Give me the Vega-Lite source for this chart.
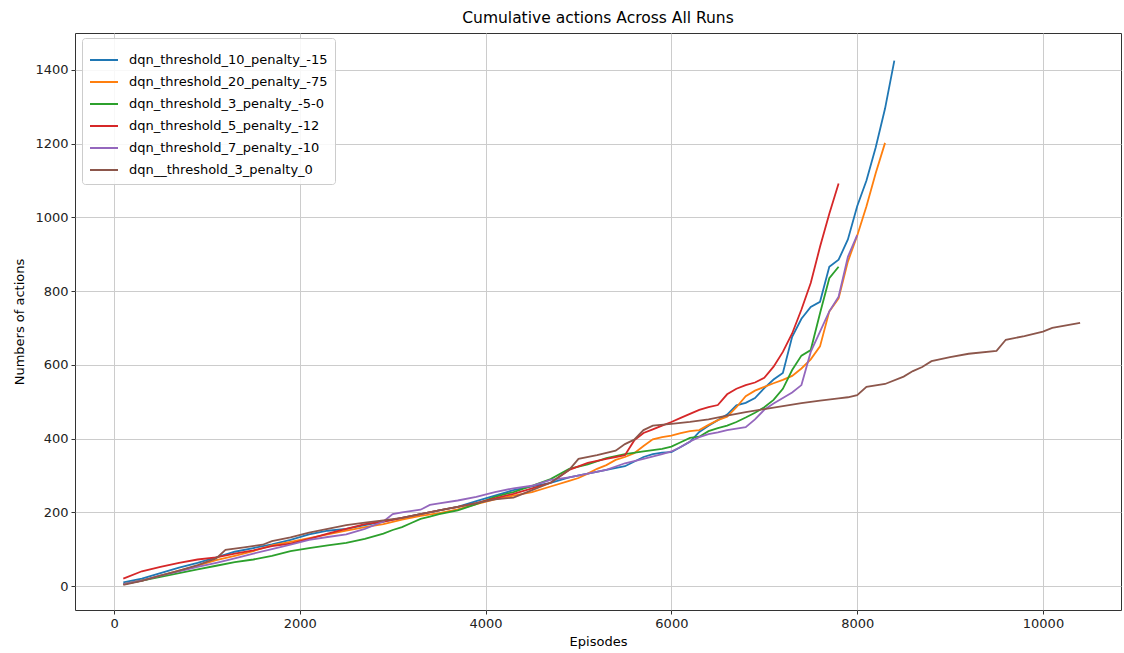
{
"$schema": "https://vega.github.io/schema/vega-lite/v6.json",
"width": 1046, "height": 577,
"autosize": {"type": "none"},
"padding": {"left": 75, "top": 33, "right": 3, "bottom": 43},
"title": {"text": "Cumulative actions Across All Runs", "fontSize": 15.5, "fontWeight": "normal", "font": "DejaVu Sans", "color": "#000", "offset": 7},
"data": {"values": [
{"run":"dqn_threshold_10_penalty_-15","episode":100,"actions":10},
{"run":"dqn_threshold_10_penalty_-15","episode":300,"actions":20},
{"run":"dqn_threshold_10_penalty_-15","episode":500,"actions":35},
{"run":"dqn_threshold_10_penalty_-15","episode":700,"actions":50},
{"run":"dqn_threshold_10_penalty_-15","episode":900,"actions":63},
{"run":"dqn_threshold_10_penalty_-15","episode":1100,"actions":78},
{"run":"dqn_threshold_10_penalty_-15","episode":1300,"actions":93},
{"run":"dqn_threshold_10_penalty_-15","episode":1500,"actions":103},
{"run":"dqn_threshold_10_penalty_-15","episode":1700,"actions":113},
{"run":"dqn_threshold_10_penalty_-15","episode":1900,"actions":125},
{"run":"dqn_threshold_10_penalty_-15","episode":2100,"actions":140},
{"run":"dqn_threshold_10_penalty_-15","episode":2300,"actions":150},
{"run":"dqn_threshold_10_penalty_-15","episode":2500,"actions":155},
{"run":"dqn_threshold_10_penalty_-15","episode":2700,"actions":165},
{"run":"dqn_threshold_10_penalty_-15","episode":2900,"actions":175},
{"run":"dqn_threshold_10_penalty_-15","episode":3100,"actions":185},
{"run":"dqn_threshold_10_penalty_-15","episode":3300,"actions":195},
{"run":"dqn_threshold_10_penalty_-15","episode":3500,"actions":205},
{"run":"dqn_threshold_10_penalty_-15","episode":3700,"actions":215},
{"run":"dqn_threshold_10_penalty_-15","episode":3900,"actions":230},
{"run":"dqn_threshold_10_penalty_-15","episode":4100,"actions":245},
{"run":"dqn_threshold_10_penalty_-15","episode":4300,"actions":260},
{"run":"dqn_threshold_10_penalty_-15","episode":4500,"actions":270},
{"run":"dqn_threshold_10_penalty_-15","episode":4700,"actions":280},
{"run":"dqn_threshold_10_penalty_-15","episode":4900,"actions":295},
{"run":"dqn_threshold_10_penalty_-15","episode":5100,"actions":305},
{"run":"dqn_threshold_10_penalty_-15","episode":5300,"actions":315},
{"run":"dqn_threshold_10_penalty_-15","episode":5500,"actions":325},
{"run":"dqn_threshold_10_penalty_-15","episode":5700,"actions":350},
{"run":"dqn_threshold_10_penalty_-15","episode":5800,"actions":358},
{"run":"dqn_threshold_10_penalty_-15","episode":5900,"actions":362},
{"run":"dqn_threshold_10_penalty_-15","episode":6000,"actions":363},
{"run":"dqn_threshold_10_penalty_-15","episode":6100,"actions":377},
{"run":"dqn_threshold_10_penalty_-15","episode":6200,"actions":391},
{"run":"dqn_threshold_10_penalty_-15","episode":6300,"actions":418},
{"run":"dqn_threshold_10_penalty_-15","episode":6400,"actions":435},
{"run":"dqn_threshold_10_penalty_-15","episode":6500,"actions":450},
{"run":"dqn_threshold_10_penalty_-15","episode":6600,"actions":465},
{"run":"dqn_threshold_10_penalty_-15","episode":6700,"actions":490},
{"run":"dqn_threshold_10_penalty_-15","episode":6800,"actions":497},
{"run":"dqn_threshold_10_penalty_-15","episode":6900,"actions":510},
{"run":"dqn_threshold_10_penalty_-15","episode":7000,"actions":537},
{"run":"dqn_threshold_10_penalty_-15","episode":7100,"actions":560},
{"run":"dqn_threshold_10_penalty_-15","episode":7200,"actions":578},
{"run":"dqn_threshold_10_penalty_-15","episode":7300,"actions":676},
{"run":"dqn_threshold_10_penalty_-15","episode":7400,"actions":725},
{"run":"dqn_threshold_10_penalty_-15","episode":7500,"actions":757},
{"run":"dqn_threshold_10_penalty_-15","episode":7600,"actions":771},
{"run":"dqn_threshold_10_penalty_-15","episode":7700,"actions":866},
{"run":"dqn_threshold_10_penalty_-15","episode":7800,"actions":885},
{"run":"dqn_threshold_10_penalty_-15","episode":7900,"actions":940},
{"run":"dqn_threshold_10_penalty_-15","episode":8000,"actions":1030},
{"run":"dqn_threshold_10_penalty_-15","episode":8100,"actions":1100},
{"run":"dqn_threshold_10_penalty_-15","episode":8200,"actions":1190},
{"run":"dqn_threshold_10_penalty_-15","episode":8300,"actions":1295},
{"run":"dqn_threshold_10_penalty_-15","episode":8400,"actions":1425},
{"run":"dqn_threshold_20_penalty_-75","episode":100,"actions":5},
{"run":"dqn_threshold_20_penalty_-75","episode":300,"actions":15},
{"run":"dqn_threshold_20_penalty_-75","episode":500,"actions":28},
{"run":"dqn_threshold_20_penalty_-75","episode":700,"actions":42},
{"run":"dqn_threshold_20_penalty_-75","episode":900,"actions":55},
{"run":"dqn_threshold_20_penalty_-75","episode":1100,"actions":70},
{"run":"dqn_threshold_20_penalty_-75","episode":1300,"actions":82},
{"run":"dqn_threshold_20_penalty_-75","episode":1500,"actions":95},
{"run":"dqn_threshold_20_penalty_-75","episode":1700,"actions":110},
{"run":"dqn_threshold_20_penalty_-75","episode":1900,"actions":120},
{"run":"dqn_threshold_20_penalty_-75","episode":2100,"actions":130},
{"run":"dqn_threshold_20_penalty_-75","episode":2300,"actions":140},
{"run":"dqn_threshold_20_penalty_-75","episode":2500,"actions":150},
{"run":"dqn_threshold_20_penalty_-75","episode":2700,"actions":160},
{"run":"dqn_threshold_20_penalty_-75","episode":2900,"actions":168},
{"run":"dqn_threshold_20_penalty_-75","episode":3100,"actions":180},
{"run":"dqn_threshold_20_penalty_-75","episode":3300,"actions":190},
{"run":"dqn_threshold_20_penalty_-75","episode":3500,"actions":198},
{"run":"dqn_threshold_20_penalty_-75","episode":3700,"actions":208},
{"run":"dqn_threshold_20_penalty_-75","episode":3900,"actions":222},
{"run":"dqn_threshold_20_penalty_-75","episode":4100,"actions":235},
{"run":"dqn_threshold_20_penalty_-75","episode":4300,"actions":245},
{"run":"dqn_threshold_20_penalty_-75","episode":4500,"actions":255},
{"run":"dqn_threshold_20_penalty_-75","episode":4700,"actions":270},
{"run":"dqn_threshold_20_penalty_-75","episode":4900,"actions":285},
{"run":"dqn_threshold_20_penalty_-75","episode":5000,"actions":293},
{"run":"dqn_threshold_20_penalty_-75","episode":5100,"actions":305},
{"run":"dqn_threshold_20_penalty_-75","episode":5200,"actions":318},
{"run":"dqn_threshold_20_penalty_-75","episode":5300,"actions":328},
{"run":"dqn_threshold_20_penalty_-75","episode":5400,"actions":342},
{"run":"dqn_threshold_20_penalty_-75","episode":5500,"actions":350},
{"run":"dqn_threshold_20_penalty_-75","episode":5600,"actions":360},
{"run":"dqn_threshold_20_penalty_-75","episode":5700,"actions":380},
{"run":"dqn_threshold_20_penalty_-75","episode":5800,"actions":398},
{"run":"dqn_threshold_20_penalty_-75","episode":5900,"actions":404},
{"run":"dqn_threshold_20_penalty_-75","episode":6000,"actions":408},
{"run":"dqn_threshold_20_penalty_-75","episode":6100,"actions":415},
{"run":"dqn_threshold_20_penalty_-75","episode":6200,"actions":420},
{"run":"dqn_threshold_20_penalty_-75","episode":6300,"actions":423},
{"run":"dqn_threshold_20_penalty_-75","episode":6400,"actions":437},
{"run":"dqn_threshold_20_penalty_-75","episode":6500,"actions":450},
{"run":"dqn_threshold_20_penalty_-75","episode":6600,"actions":459},
{"run":"dqn_threshold_20_penalty_-75","episode":6700,"actions":485},
{"run":"dqn_threshold_20_penalty_-75","episode":6800,"actions":515},
{"run":"dqn_threshold_20_penalty_-75","episode":6900,"actions":530},
{"run":"dqn_threshold_20_penalty_-75","episode":7000,"actions":540},
{"run":"dqn_threshold_20_penalty_-75","episode":7100,"actions":550},
{"run":"dqn_threshold_20_penalty_-75","episode":7200,"actions":559},
{"run":"dqn_threshold_20_penalty_-75","episode":7300,"actions":570},
{"run":"dqn_threshold_20_penalty_-75","episode":7400,"actions":590},
{"run":"dqn_threshold_20_penalty_-75","episode":7500,"actions":615},
{"run":"dqn_threshold_20_penalty_-75","episode":7600,"actions":650},
{"run":"dqn_threshold_20_penalty_-75","episode":7700,"actions":745},
{"run":"dqn_threshold_20_penalty_-75","episode":7800,"actions":780},
{"run":"dqn_threshold_20_penalty_-75","episode":7900,"actions":880},
{"run":"dqn_threshold_20_penalty_-75","episode":8000,"actions":950},
{"run":"dqn_threshold_20_penalty_-75","episode":8100,"actions":1030},
{"run":"dqn_threshold_20_penalty_-75","episode":8200,"actions":1120},
{"run":"dqn_threshold_20_penalty_-75","episode":8300,"actions":1202},
{"run":"dqn_threshold_3_penalty_-5-0","episode":100,"actions":5},
{"run":"dqn_threshold_3_penalty_-5-0","episode":300,"actions":15},
{"run":"dqn_threshold_3_penalty_-5-0","episode":500,"actions":25},
{"run":"dqn_threshold_3_penalty_-5-0","episode":700,"actions":35},
{"run":"dqn_threshold_3_penalty_-5-0","episode":900,"actions":45},
{"run":"dqn_threshold_3_penalty_-5-0","episode":1100,"actions":55},
{"run":"dqn_threshold_3_penalty_-5-0","episode":1300,"actions":65},
{"run":"dqn_threshold_3_penalty_-5-0","episode":1500,"actions":72},
{"run":"dqn_threshold_3_penalty_-5-0","episode":1700,"actions":82},
{"run":"dqn_threshold_3_penalty_-5-0","episode":1900,"actions":95},
{"run":"dqn_threshold_3_penalty_-5-0","episode":2100,"actions":103},
{"run":"dqn_threshold_3_penalty_-5-0","episode":2300,"actions":110},
{"run":"dqn_threshold_3_penalty_-5-0","episode":2500,"actions":117},
{"run":"dqn_threshold_3_penalty_-5-0","episode":2700,"actions":128},
{"run":"dqn_threshold_3_penalty_-5-0","episode":2900,"actions":142},
{"run":"dqn_threshold_3_penalty_-5-0","episode":3000,"actions":152},
{"run":"dqn_threshold_3_penalty_-5-0","episode":3100,"actions":160},
{"run":"dqn_threshold_3_penalty_-5-0","episode":3200,"actions":171},
{"run":"dqn_threshold_3_penalty_-5-0","episode":3300,"actions":182},
{"run":"dqn_threshold_3_penalty_-5-0","episode":3400,"actions":188},
{"run":"dqn_threshold_3_penalty_-5-0","episode":3500,"actions":195},
{"run":"dqn_threshold_3_penalty_-5-0","episode":3700,"actions":205},
{"run":"dqn_threshold_3_penalty_-5-0","episode":3900,"actions":222},
{"run":"dqn_threshold_3_penalty_-5-0","episode":4100,"actions":242},
{"run":"dqn_threshold_3_penalty_-5-0","episode":4300,"actions":255},
{"run":"dqn_threshold_3_penalty_-5-0","episode":4500,"actions":272},
{"run":"dqn_threshold_3_penalty_-5-0","episode":4700,"actions":290},
{"run":"dqn_threshold_3_penalty_-5-0","episode":4900,"actions":318},
{"run":"dqn_threshold_3_penalty_-5-0","episode":5100,"actions":330},
{"run":"dqn_threshold_3_penalty_-5-0","episode":5300,"actions":347},
{"run":"dqn_threshold_3_penalty_-5-0","episode":5500,"actions":358},
{"run":"dqn_threshold_3_penalty_-5-0","episode":5700,"actions":365},
{"run":"dqn_threshold_3_penalty_-5-0","episode":5900,"actions":372},
{"run":"dqn_threshold_3_penalty_-5-0","episode":6000,"actions":378},
{"run":"dqn_threshold_3_penalty_-5-0","episode":6100,"actions":390},
{"run":"dqn_threshold_3_penalty_-5-0","episode":6200,"actions":402},
{"run":"dqn_threshold_3_penalty_-5-0","episode":6300,"actions":405},
{"run":"dqn_threshold_3_penalty_-5-0","episode":6400,"actions":420},
{"run":"dqn_threshold_3_penalty_-5-0","episode":6500,"actions":428},
{"run":"dqn_threshold_3_penalty_-5-0","episode":6600,"actions":435},
{"run":"dqn_threshold_3_penalty_-5-0","episode":6700,"actions":445},
{"run":"dqn_threshold_3_penalty_-5-0","episode":6800,"actions":457},
{"run":"dqn_threshold_3_penalty_-5-0","episode":6900,"actions":470},
{"run":"dqn_threshold_3_penalty_-5-0","episode":7000,"actions":485},
{"run":"dqn_threshold_3_penalty_-5-0","episode":7100,"actions":505},
{"run":"dqn_threshold_3_penalty_-5-0","episode":7200,"actions":535},
{"run":"dqn_threshold_3_penalty_-5-0","episode":7300,"actions":586},
{"run":"dqn_threshold_3_penalty_-5-0","episode":7400,"actions":625},
{"run":"dqn_threshold_3_penalty_-5-0","episode":7500,"actions":640},
{"run":"dqn_threshold_3_penalty_-5-0","episode":7600,"actions":740},
{"run":"dqn_threshold_3_penalty_-5-0","episode":7700,"actions":835},
{"run":"dqn_threshold_3_penalty_-5-0","episode":7800,"actions":866},
{"run":"dqn_threshold_5_penalty_-12","episode":100,"actions":20},
{"run":"dqn_threshold_5_penalty_-12","episode":300,"actions":40},
{"run":"dqn_threshold_5_penalty_-12","episode":500,"actions":52},
{"run":"dqn_threshold_5_penalty_-12","episode":700,"actions":63},
{"run":"dqn_threshold_5_penalty_-12","episode":900,"actions":72},
{"run":"dqn_threshold_5_penalty_-12","episode":1100,"actions":78},
{"run":"dqn_threshold_5_penalty_-12","episode":1300,"actions":88},
{"run":"dqn_threshold_5_penalty_-12","episode":1500,"actions":97},
{"run":"dqn_threshold_5_penalty_-12","episode":1700,"actions":108},
{"run":"dqn_threshold_5_penalty_-12","episode":1900,"actions":115},
{"run":"dqn_threshold_5_penalty_-12","episode":2100,"actions":128},
{"run":"dqn_threshold_5_penalty_-12","episode":2300,"actions":142},
{"run":"dqn_threshold_5_penalty_-12","episode":2500,"actions":155},
{"run":"dqn_threshold_5_penalty_-12","episode":2700,"actions":168},
{"run":"dqn_threshold_5_penalty_-12","episode":2900,"actions":175},
{"run":"dqn_threshold_5_penalty_-12","episode":3100,"actions":185},
{"run":"dqn_threshold_5_penalty_-12","episode":3300,"actions":195},
{"run":"dqn_threshold_5_penalty_-12","episode":3500,"actions":205},
{"run":"dqn_threshold_5_penalty_-12","episode":3700,"actions":215},
{"run":"dqn_threshold_5_penalty_-12","episode":3900,"actions":225},
{"run":"dqn_threshold_5_penalty_-12","episode":4100,"actions":238},
{"run":"dqn_threshold_5_penalty_-12","episode":4300,"actions":250},
{"run":"dqn_threshold_5_penalty_-12","episode":4500,"actions":265},
{"run":"dqn_threshold_5_penalty_-12","episode":4700,"actions":280},
{"run":"dqn_threshold_5_penalty_-12","episode":4900,"actions":315},
{"run":"dqn_threshold_5_penalty_-12","episode":5100,"actions":334},
{"run":"dqn_threshold_5_penalty_-12","episode":5300,"actions":345},
{"run":"dqn_threshold_5_penalty_-12","episode":5400,"actions":350},
{"run":"dqn_threshold_5_penalty_-12","episode":5500,"actions":355},
{"run":"dqn_threshold_5_penalty_-12","episode":5600,"actions":395},
{"run":"dqn_threshold_5_penalty_-12","episode":5700,"actions":415},
{"run":"dqn_threshold_5_penalty_-12","episode":5800,"actions":425},
{"run":"dqn_threshold_5_penalty_-12","episode":5900,"actions":435},
{"run":"dqn_threshold_5_penalty_-12","episode":6000,"actions":445},
{"run":"dqn_threshold_5_penalty_-12","episode":6100,"actions":456},
{"run":"dqn_threshold_5_penalty_-12","episode":6200,"actions":467},
{"run":"dqn_threshold_5_penalty_-12","episode":6300,"actions":478},
{"run":"dqn_threshold_5_penalty_-12","episode":6400,"actions":485},
{"run":"dqn_threshold_5_penalty_-12","episode":6500,"actions":491},
{"run":"dqn_threshold_5_penalty_-12","episode":6600,"actions":520},
{"run":"dqn_threshold_5_penalty_-12","episode":6700,"actions":535},
{"run":"dqn_threshold_5_penalty_-12","episode":6800,"actions":545},
{"run":"dqn_threshold_5_penalty_-12","episode":6900,"actions":552},
{"run":"dqn_threshold_5_penalty_-12","episode":7000,"actions":565},
{"run":"dqn_threshold_5_penalty_-12","episode":7100,"actions":595},
{"run":"dqn_threshold_5_penalty_-12","episode":7200,"actions":635},
{"run":"dqn_threshold_5_penalty_-12","episode":7300,"actions":685},
{"run":"dqn_threshold_5_penalty_-12","episode":7400,"actions":750},
{"run":"dqn_threshold_5_penalty_-12","episode":7500,"actions":822},
{"run":"dqn_threshold_5_penalty_-12","episode":7600,"actions":920},
{"run":"dqn_threshold_5_penalty_-12","episode":7700,"actions":1010},
{"run":"dqn_threshold_5_penalty_-12","episode":7800,"actions":1092},
{"run":"dqn_threshold_7_penalty_-10","episode":100,"actions":5},
{"run":"dqn_threshold_7_penalty_-10","episode":300,"actions":15},
{"run":"dqn_threshold_7_penalty_-10","episode":500,"actions":28},
{"run":"dqn_threshold_7_penalty_-10","episode":700,"actions":40},
{"run":"dqn_threshold_7_penalty_-10","episode":900,"actions":52},
{"run":"dqn_threshold_7_penalty_-10","episode":1100,"actions":63},
{"run":"dqn_threshold_7_penalty_-10","episode":1300,"actions":75},
{"run":"dqn_threshold_7_penalty_-10","episode":1500,"actions":88},
{"run":"dqn_threshold_7_penalty_-10","episode":1700,"actions":100},
{"run":"dqn_threshold_7_penalty_-10","episode":1900,"actions":112},
{"run":"dqn_threshold_7_penalty_-10","episode":2100,"actions":125},
{"run":"dqn_threshold_7_penalty_-10","episode":2300,"actions":133},
{"run":"dqn_threshold_7_penalty_-10","episode":2500,"actions":140},
{"run":"dqn_threshold_7_penalty_-10","episode":2700,"actions":155},
{"run":"dqn_threshold_7_penalty_-10","episode":2900,"actions":175},
{"run":"dqn_threshold_7_penalty_-10","episode":3000,"actions":195},
{"run":"dqn_threshold_7_penalty_-10","episode":3100,"actions":200},
{"run":"dqn_threshold_7_penalty_-10","episode":3300,"actions":207},
{"run":"dqn_threshold_7_penalty_-10","episode":3400,"actions":220},
{"run":"dqn_threshold_7_penalty_-10","episode":3500,"actions":224},
{"run":"dqn_threshold_7_penalty_-10","episode":3700,"actions":232},
{"run":"dqn_threshold_7_penalty_-10","episode":3900,"actions":242},
{"run":"dqn_threshold_7_penalty_-10","episode":4100,"actions":255},
{"run":"dqn_threshold_7_penalty_-10","episode":4300,"actions":265},
{"run":"dqn_threshold_7_penalty_-10","episode":4500,"actions":272},
{"run":"dqn_threshold_7_penalty_-10","episode":4700,"actions":288},
{"run":"dqn_threshold_7_penalty_-10","episode":4900,"actions":295},
{"run":"dqn_threshold_7_penalty_-10","episode":5100,"actions":305},
{"run":"dqn_threshold_7_penalty_-10","episode":5300,"actions":315},
{"run":"dqn_threshold_7_penalty_-10","episode":5500,"actions":333},
{"run":"dqn_threshold_7_penalty_-10","episode":5700,"actions":345},
{"run":"dqn_threshold_7_penalty_-10","episode":5900,"actions":358},
{"run":"dqn_threshold_7_penalty_-10","episode":6000,"actions":365},
{"run":"dqn_threshold_7_penalty_-10","episode":6100,"actions":377},
{"run":"dqn_threshold_7_penalty_-10","episode":6200,"actions":392},
{"run":"dqn_threshold_7_penalty_-10","episode":6300,"actions":404},
{"run":"dqn_threshold_7_penalty_-10","episode":6400,"actions":412},
{"run":"dqn_threshold_7_penalty_-10","episode":6500,"actions":417},
{"run":"dqn_threshold_7_penalty_-10","episode":6600,"actions":423},
{"run":"dqn_threshold_7_penalty_-10","episode":6700,"actions":427},
{"run":"dqn_threshold_7_penalty_-10","episode":6800,"actions":431},
{"run":"dqn_threshold_7_penalty_-10","episode":6900,"actions":452},
{"run":"dqn_threshold_7_penalty_-10","episode":7000,"actions":478},
{"run":"dqn_threshold_7_penalty_-10","episode":7100,"actions":495},
{"run":"dqn_threshold_7_penalty_-10","episode":7200,"actions":510},
{"run":"dqn_threshold_7_penalty_-10","episode":7300,"actions":525},
{"run":"dqn_threshold_7_penalty_-10","episode":7400,"actions":545},
{"run":"dqn_threshold_7_penalty_-10","episode":7500,"actions":635},
{"run":"dqn_threshold_7_penalty_-10","episode":7600,"actions":690},
{"run":"dqn_threshold_7_penalty_-10","episode":7700,"actions":745},
{"run":"dqn_threshold_7_penalty_-10","episode":7800,"actions":785},
{"run":"dqn_threshold_7_penalty_-10","episode":7900,"actions":893},
{"run":"dqn_threshold_7_penalty_-10","episode":8000,"actions":952},
{"run":"dqn__threshold_3_penalty_0","episode":100,"actions":3},
{"run":"dqn__threshold_3_penalty_0","episode":300,"actions":14},
{"run":"dqn__threshold_3_penalty_0","episode":500,"actions":28},
{"run":"dqn__threshold_3_penalty_0","episode":700,"actions":42},
{"run":"dqn__threshold_3_penalty_0","episode":900,"actions":57},
{"run":"dqn__threshold_3_penalty_0","episode":1100,"actions":75},
{"run":"dqn__threshold_3_penalty_0","episode":1200,"actions":98},
{"run":"dqn__threshold_3_penalty_0","episode":1400,"actions":105},
{"run":"dqn__threshold_3_penalty_0","episode":1600,"actions":112},
{"run":"dqn__threshold_3_penalty_0","episode":1700,"actions":122},
{"run":"dqn__threshold_3_penalty_0","episode":1900,"actions":132},
{"run":"dqn__threshold_3_penalty_0","episode":2100,"actions":145},
{"run":"dqn__threshold_3_penalty_0","episode":2300,"actions":155},
{"run":"dqn__threshold_3_penalty_0","episode":2500,"actions":165},
{"run":"dqn__threshold_3_penalty_0","episode":2700,"actions":172},
{"run":"dqn__threshold_3_penalty_0","episode":2900,"actions":178},
{"run":"dqn__threshold_3_penalty_0","episode":3100,"actions":185},
{"run":"dqn__threshold_3_penalty_0","episode":3300,"actions":195},
{"run":"dqn__threshold_3_penalty_0","episode":3500,"actions":205},
{"run":"dqn__threshold_3_penalty_0","episode":3700,"actions":215},
{"run":"dqn__threshold_3_penalty_0","episode":3900,"actions":225},
{"run":"dqn__threshold_3_penalty_0","episode":4100,"actions":235},
{"run":"dqn__threshold_3_penalty_0","episode":4300,"actions":240},
{"run":"dqn__threshold_3_penalty_0","episode":4500,"actions":260},
{"run":"dqn__threshold_3_penalty_0","episode":4700,"actions":280},
{"run":"dqn__threshold_3_penalty_0","episode":4900,"actions":315},
{"run":"dqn__threshold_3_penalty_0","episode":5000,"actions":345},
{"run":"dqn__threshold_3_penalty_0","episode":5200,"actions":355},
{"run":"dqn__threshold_3_penalty_0","episode":5400,"actions":367},
{"run":"dqn__threshold_3_penalty_0","episode":5500,"actions":385},
{"run":"dqn__threshold_3_penalty_0","episode":5600,"actions":397},
{"run":"dqn__threshold_3_penalty_0","episode":5700,"actions":423},
{"run":"dqn__threshold_3_penalty_0","episode":5800,"actions":435},
{"run":"dqn__threshold_3_penalty_0","episode":6000,"actions":440},
{"run":"dqn__threshold_3_penalty_0","episode":6200,"actions":445},
{"run":"dqn__threshold_3_penalty_0","episode":6400,"actions":452},
{"run":"dqn__threshold_3_penalty_0","episode":6600,"actions":462},
{"run":"dqn__threshold_3_penalty_0","episode":6800,"actions":472},
{"run":"dqn__threshold_3_penalty_0","episode":7000,"actions":480},
{"run":"dqn__threshold_3_penalty_0","episode":7200,"actions":488},
{"run":"dqn__threshold_3_penalty_0","episode":7400,"actions":496},
{"run":"dqn__threshold_3_penalty_0","episode":7600,"actions":503},
{"run":"dqn__threshold_3_penalty_0","episode":7800,"actions":509},
{"run":"dqn__threshold_3_penalty_0","episode":7900,"actions":512},
{"run":"dqn__threshold_3_penalty_0","episode":8000,"actions":518},
{"run":"dqn__threshold_3_penalty_0","episode":8100,"actions":540},
{"run":"dqn__threshold_3_penalty_0","episode":8300,"actions":548},
{"run":"dqn__threshold_3_penalty_0","episode":8500,"actions":568},
{"run":"dqn__threshold_3_penalty_0","episode":8600,"actions":583},
{"run":"dqn__threshold_3_penalty_0","episode":8700,"actions":594},
{"run":"dqn__threshold_3_penalty_0","episode":8800,"actions":610},
{"run":"dqn__threshold_3_penalty_0","episode":9000,"actions":621},
{"run":"dqn__threshold_3_penalty_0","episode":9200,"actions":630},
{"run":"dqn__threshold_3_penalty_0","episode":9500,"actions":638},
{"run":"dqn__threshold_3_penalty_0","episode":9600,"actions":668},
{"run":"dqn__threshold_3_penalty_0","episode":9800,"actions":678},
{"run":"dqn__threshold_3_penalty_0","episode":10000,"actions":690},
{"run":"dqn__threshold_3_penalty_0","episode":10100,"actions":700},
{"run":"dqn__threshold_3_penalty_0","episode":10400,"actions":714}
]},
"mark": {"type": "line", "strokeWidth": 1.8, "clip": true},
"encoding": {
  "x": {"field": "episode", "type": "quantitative",
        "scale": {"domain": [-420, 10840], "nice": false, "zero": false},
        "axis": {"values": [0, 2000, 4000, 6000, 8000, 10000], "format": "d", "title": "Episodes", "titlePadding": 5}},
  "y": {"field": "actions", "type": "quantitative",
        "scale": {"domain": [-65, 1500], "nice": false, "zero": false},
        "axis": {"values": [0, 200, 400, 600, 800, 1000, 1200, 1400], "format": "d", "title": "Numbers of actions", "titlePadding": 8}},
  "color": {"field": "run", "type": "nominal",
        "scale": {"domain": ["dqn_threshold_10_penalty_-15", "dqn_threshold_20_penalty_-75", "dqn_threshold_3_penalty_-5-0", "dqn_threshold_5_penalty_-12", "dqn_threshold_7_penalty_-10", "dqn__threshold_3_penalty_0"],
                  "range": ["#1f77b4", "#ff7f0e", "#2ca02c", "#d62728", "#9467bd", "#8c564b"]},
        "legend": {"title": null, "orient": "none", "legendX": 7, "legendY": 5, "padding": 7,
                   "fillColor": "rgba(255,255,255,0.85)", "strokeColor": "#cccccc", "cornerRadius": 3,
                   "symbolType": "stroke", "symbolSize": 784, "symbolStrokeWidth": 2,
                   "labelFontSize": 13, "labelFont": "DejaVu Sans", "labelColor": "#000", "labelOffset": 10, "labelLimit": 400, "rowPadding": -3}}
},
"config": {
  "view": {"stroke": "#333333", "strokeWidth": 1},
  "axis": {"grid": true, "gridColor": "#cccccc", "gridWidth": 1, "domain": false,
           "tickColor": "#333333", "tickSize": 4, "labelPadding": 3,
           "labelFont": "DejaVu Sans", "labelFontSize": 13, "labelColor": "#222222",
           "titleFont": "DejaVu Sans", "titleFontSize": 13, "titleFontWeight": "normal", "titleColor": "#000"}
}
}
